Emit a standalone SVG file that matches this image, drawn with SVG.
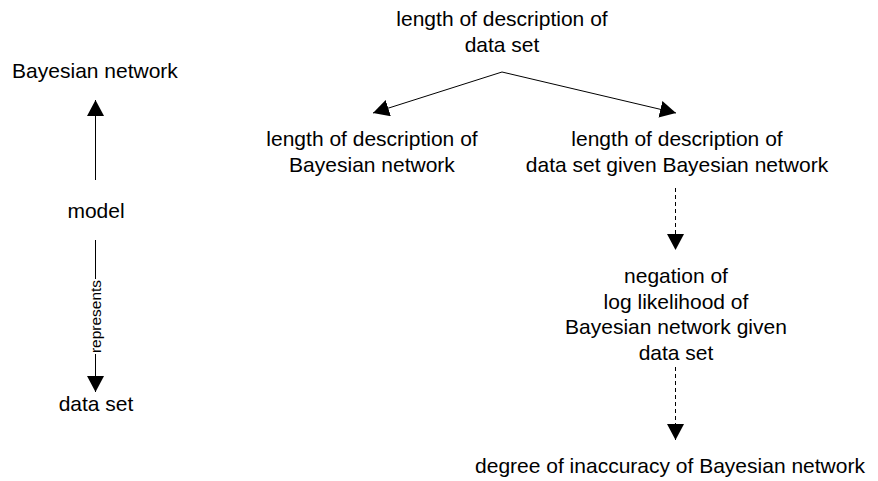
<svg xmlns="http://www.w3.org/2000/svg" width="878" height="481" viewBox="0 0 878 481">
  <style>
    text { font-family: "Liberation Sans", Arial, sans-serif; font-size: 21px; fill: #000; text-anchor: middle; }
    .small { font-size: 15.5px; }
    .edge { fill: none; stroke: #000; stroke-width: 1; }
    .dashed { stroke-dasharray: 4 3; }
  </style>
  <defs>
    <marker id="arrow" markerUnits="userSpaceOnUse" viewBox="0 0 16 17" refX="16" refY="8.5" markerWidth="16" markerHeight="17" orient="auto">
      <path d="M0,0 L16,8.5 L0,17 Z" fill="#000"/>
    </marker>
  </defs>
  <rect width="878" height="481" fill="#fff"/>

  <!-- left column: model relations -->
  <g id="bayesian-network">
    <text x="95" y="78">Bayesian network</text>
  </g>
  <g id="model">
    <text x="96" y="218">model</text>
  </g>
  <g id="data-set">
    <text x="96" y="411">data set</text>
  </g>

  <!-- description length breakdown -->
  <g id="length-data-set">
    <text x="502" y="26">length of description of</text>
    <text x="502" y="52">data set</text>
  </g>
  <g id="length-network">
    <text x="372" y="146">length of description of</text>
    <text x="372" y="172">Bayesian network</text>
  </g>
  <g id="length-data-given-network">
    <text x="677" y="146">length of description of</text>
    <text x="677" y="172">data set given Bayesian network</text>
  </g>
  <g id="negative-log-likelihood">
    <text x="676" y="283">negation of</text>
    <text x="676" y="308.5">log likelihood of</text>
    <text x="676" y="334">Bayesian network given</text>
    <text x="676" y="359.5">data set</text>
  </g>
  <g id="inaccuracy">
    <text x="670" y="473">degree of inaccuracy of Bayesian network</text>
  </g>

  <g id="connectors">
    <path class="edge" d="M95.5,180 L95.5,100" marker-end="url(#arrow)"/>
    <path class="edge" d="M95.5,240 L95.5,279 M95.5,354 L95.5,392" marker-end="url(#arrow)"/>
    <text class="small" transform="translate(101,316.5) rotate(-90)">represents</text>
    <path class="edge" d="M502,72 L373,113" marker-end="url(#arrow)"/>
    <path class="edge" d="M502,72 L676,113" marker-end="url(#arrow)"/>
    <path class="edge dashed" d="M675.5,188 L675.5,250" marker-end="url(#arrow)"/>
    <path class="edge dashed" d="M675.5,367 L675.5,440" marker-end="url(#arrow)"/>
  </g>
</svg>
